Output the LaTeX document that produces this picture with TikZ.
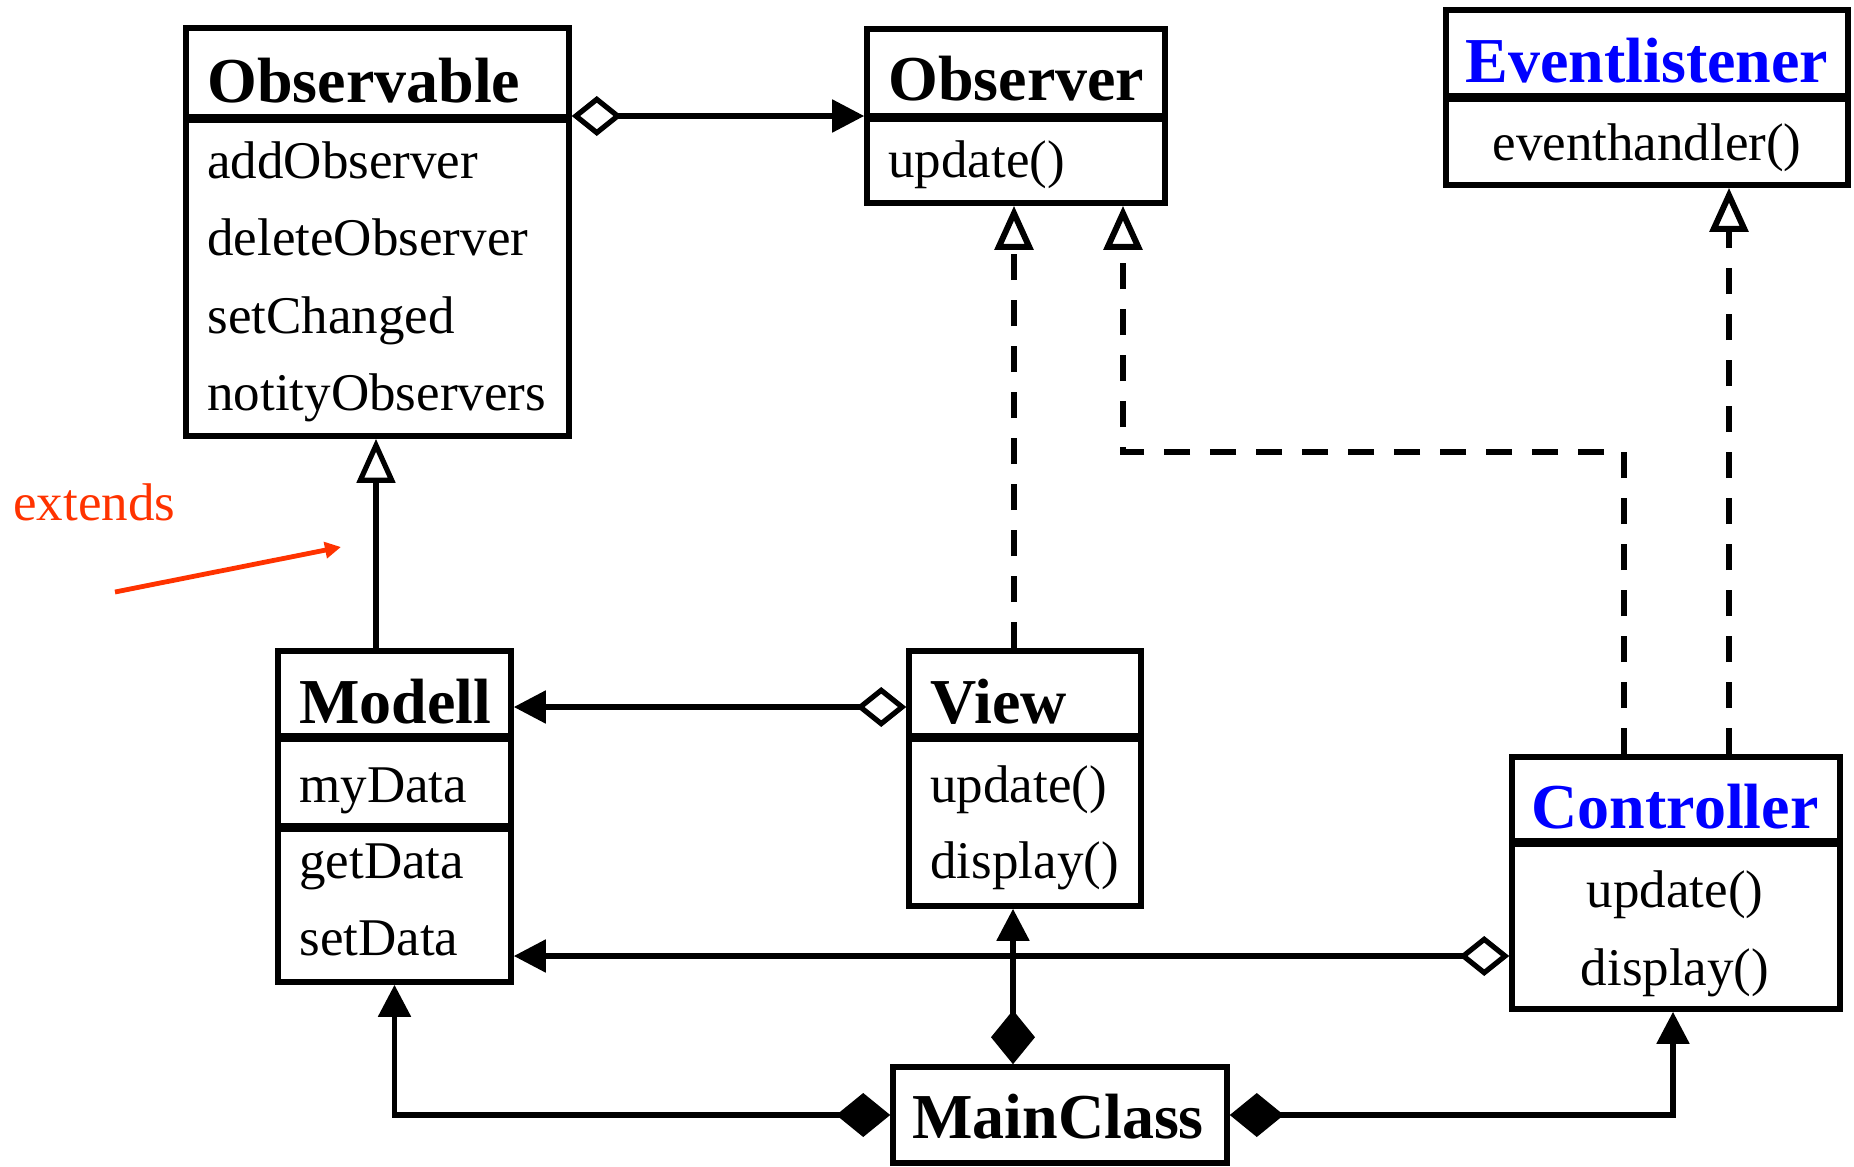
\documentclass[tikz,border=0pt]{standalone}
\usepackage{fontspec}
\setmainfont{Liberation Serif}
\usepackage{xcolor}
\usepackage{tikz}
\usetikzlibrary{arrows.meta, positioning, fit}
\definecolor{umlblue}{RGB}{0,0,255}
\definecolor{notered}{RGB}{255,51,0}

\begin{document}
\begin{tikzpicture}[
  x=0.5pt, y=-0.5pt,
  cls/.style={draw, line width=2.8pt, inner sep=0pt},
  sep/.style={line width=4.5pt},
  ttl/.style={anchor=base west, inner sep=0pt, font=\fontsize{32}{38}\selectfont\bfseries},
  item/.style={anchor=base west, inner sep=0pt, font=\fontsize{26.5}{32}\selectfont},
  agg/.style={line width=2.6pt, {Diamond[open, length=25pt, width=20pt]}-{Triangle[length=16pt, width=16pt]}},
  comp/.style={line width=2.6pt, {Diamond[length=27pt, width=22pt]}-{Triangle[length=16pt, width=16pt]}},
  real/.style={line width=3pt, dash pattern=on 13pt off 10pt, -{Triangle[open, length=22pt, width=19pt]}},
  gen/.style={line width=2.6pt, -{Triangle[open, length=22pt, width=19pt]}}
]
  \useasboundingbox (0,0) rectangle (1854,1167);

  % classes
  \node[cls, fit={(186,28) (569,436)}] (obs) {};
  \draw[sep] (obs.west |- 0,118) -- (obs.east |- 0,118);
  \node[ttl] (obsT) at (207,102) {Observable};
  \node[item] (obs1) at (207,178) {addObserver};
  \node[item] (obs2) at (207,255) {deleteObserver};
  \node[item] (obs3) at (207,333) {setChanged};
  \node[item] (obs4) at (207,410) {notityObservers};

  \node[cls, fit={(867,29) (1165,203)}] (ob) {};
  \draw[sep] (ob.west |- 0,117) -- (ob.east |- 0,117);
  \node[ttl] (obT) at (888,100) {Observer};
  \node[item] (ob1) at (888,177) {update()};

  \node[cls, fit={(1446,10) (1848,185)}] (ev) {};
  \draw[sep] (ev.west |- 0,97) -- (ev.east |- 0,97);
  \node[ttl, anchor=base, text=umlblue] (evT) at (1647,82) {Eventlistener};
  \node[item, anchor=base] (ev1) at (1647,160) {eventhandler()};

  \node[cls, fit={(278,651) (511,982)}] (mod) {};
  \draw[sep] (mod.west |- 0,737) -- (mod.east |- 0,737);
  \draw[sep] (mod.west |- 0,827) -- (mod.east |- 0,827);
  \node[ttl] (modT) at (299,723) {Modell};
  \node[item] (mod1) at (299,802) {myData};
  \node[item] (mod2) at (299,878) {getData};
  \node[item] (mod3) at (299,955) {setData};

  \node[cls, fit={(909,651) (1141,906)}] (view) {};
  \draw[sep] (view.west |- 0,737) -- (view.east |- 0,737);
  \node[ttl] (viewT) at (930,723) {View};
  \node[item] (view1) at (930,802) {update()};
  \node[item] (view2) at (930,878) {display()};

  \node[cls, fit={(1512,757) (1840,1009)}] (ctrl) {};
  \draw[sep] (ctrl.west |- 0,842) -- (ctrl.east |- 0,842);
  \node[ttl, anchor=base, text=umlblue] (ctrlT) at (1675,828) {Controller};
  \node[item, anchor=base] (ctrl1) at (1675,907) {update()};
  \node[item, anchor=base] (ctrl2) at (1675,985) {display()};

  \node[cls, fit={(893,1067) (1227,1163)}] (main) {};
  \node[ttl, anchor=base] (mainT) at (1058,1138) {MainClass};

  % relations
  \draw[agg] (obs.east |- 0,116) -- (ob.west |- 0,116);
  \draw[gen] (mod.north -| 376,0) -- (obs.south -| 376,0);
  \draw[agg] (view.west |- 0,707) -- (mod.east |- 0,707);
  \draw[agg] (ctrl.west |- 0,956) -- (mod.east |- 0,956);
  \draw[real] (view.north -| 1014,0) -- (ob.south -| 1014,0);
  \coordinate (bend) at (1123,452);
  \draw[real] (ctrl.north -| 1624,0) |- (bend) -- (ob.south -| bend);
  \draw[real] (ctrl.north -| 1729,0) -- (ev.south -| 1729,0);
  \draw[comp] (main.north -| 1013,0) -- (view.south -| 1013,0);
  \draw[comp] (main.west) -| (mod.south);
  \draw[comp] (main.east) -| (ctrl.south -| 1673,0);

  % note
  \node[item, text=notered] (ext) at (13,520) {extends};
  \coordinate (extfrom) at (115,592);
  \coordinate (extto) at (341,547);
  \draw[line width=2.4pt, notered, -{Triangle[length=8pt, width=8pt]}] (extfrom) -- (extto);
\end{tikzpicture}
\end{document}
